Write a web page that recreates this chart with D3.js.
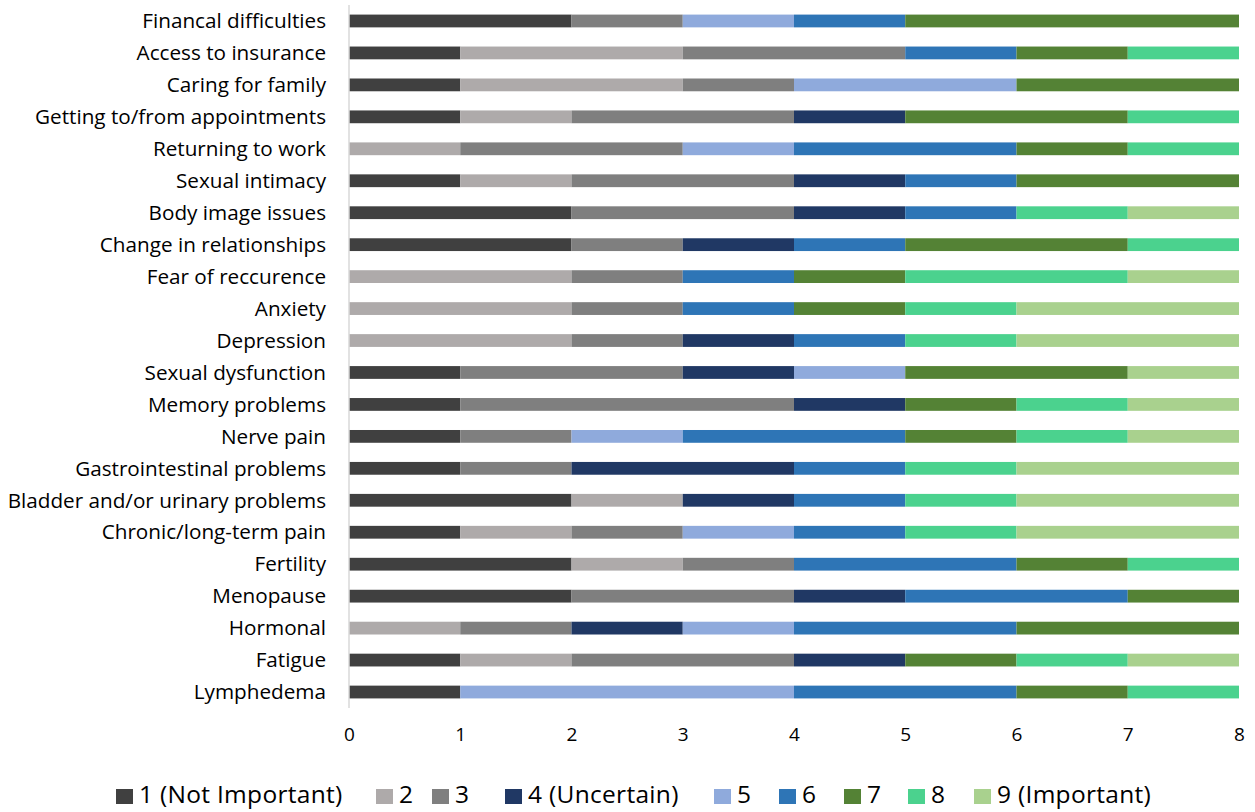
<!DOCTYPE html>
<html>
<head>
<meta charset="utf-8">
<script src="https://cdn.jsdelivr.net/npm/d3@7"></script>
<style>
  html, body { margin: 0; padding: 0; background: #fff; }
  svg text { font-family: "Open Sans", Lato, sans-serif; fill: #000; }
</style>
</head>
<body>
<svg id="chart" width="1255" height="812"></svg>
<script>
// Concerns, top to bottom
const categories = [
  "Financal difficulties", "Access to insurance", "Caring for family",
  "Getting to/from appointments", "Returning to work", "Sexual intimacy",
  "Body image issues", "Change in relationships ", "Fear of reccurence",
  "Anxiety", "Depression", "Sexual dysfunction", "Memory problems",
  "Nerve pain", "Gastrointestinal problems", "Bladder and/or urinary problems",
  "Chronic/long-term pain", "Fertility ", "Menopause", "Hormonal",
  "Fatigue", "Lymphedema"
];

// Rating labels (legend order)
const ratings = ["1 (Not Important)", "2", "3", "4 (Uncertain)", "5", "6", "7", "8", "9 (Important)"];

// Counts per rating, one value per concern (same order as categories)
const r1 = [2,1,1,1,0,1,2,2,0,0,0,1,1,1,1,2,1,2,2,0,1,1];
const r2 = [0,2,2,1,1,1,0,0,2,2,2,0,0,0,0,1,1,1,0,1,1,0];
const r3 = [1,2,1,2,2,2,2,1,1,1,1,2,3,1,1,0,1,1,2,1,2,0];
const r4 = [0,0,0,1,0,1,1,1,0,0,1,1,1,0,2,1,0,0,1,1,1,0];
const r5 = [1,0,2,0,1,0,0,0,0,0,0,1,0,1,0,0,1,0,0,1,0,3];
const r6 = [1,1,0,0,2,1,1,1,1,1,1,0,0,2,1,1,1,2,2,2,0,2];
const r7 = [3,1,2,2,1,2,0,2,1,1,0,2,1,1,0,0,0,1,1,2,1,1];
const r8 = [0,1,0,1,1,0,1,1,2,1,1,0,1,1,1,1,1,1,0,0,1,1];
const r9 = [0,0,0,0,0,0,1,0,1,2,2,1,1,1,2,2,2,0,0,0,1,0];

const xTicks = [0,1,2,3,4,5,6,7,8];
const colors = ["#404040","#aeaaaa","#7f7f7f","#203864","#8faadc","#2e75b6","#548235","#4bd28e","#a9d18e"];

const seriesValues = [r1,r2,r3,r4,r5,r6,r7,r8,r9];
const rows = categories.map((c, i) => {
  const o = { cat: c };
  seriesValues.forEach((s, k) => { o["k" + k] = s[i]; });
  return o;
});
const keys = seriesValues.map((_, k) => "k" + k);

const svg = d3.select("#chart");
const margin = { left: 349, right: 16, top: 5, bottom: 104 };
const W = 1255, H = 812;

const x = d3.scaleLinear().domain([0, 8]).range([margin.left, W - margin.right]);
const y = d3.scaleBand().domain(categories).range([margin.top, H - margin.bottom]).paddingInner(0.6).paddingOuter(0.3);

const stacked = d3.stack().keys(keys)(rows);

svg.append("g").selectAll("g")
  .data(stacked)
  .join("g")
  .attr("fill", (d, i) => colors[i])
  .selectAll("rect")
  .data(d => d)
  .join("rect")
  .attr("x", d => x(d[0]))
  .attr("y", d => y(d.data.cat))
  .attr("width", d => x(d[1]) - x(d[0]))
  .attr("height", y.bandwidth());

// Category axis line
svg.append("line")
  .attr("x1", x(0)).attr("x2", x(0))
  .attr("y1", margin.top).attr("y2", H - margin.bottom)
  .attr("stroke", "#d9d9d9").attr("stroke-width", 1.5);

// Category labels
svg.append("g").selectAll("text")
  .data(categories)
  .join("text")
  .attr("x", margin.left - 23)
  .attr("y", d => y(d) + y.bandwidth() / 2)
  .attr("dy", "0.35em")
  .attr("text-anchor", "end")
  .attr("font-size", 20.7)
  .text(d => d);

// Value axis tick labels
const xAxis = d3.axisBottom(x).tickValues(xTicks).tickSize(0).tickPadding(0).tickFormat(d3.format("d"));
const gx = svg.append("g").attr("transform", `translate(0, ${H - margin.bottom + 19})`).call(xAxis);
gx.select(".domain").remove();
gx.selectAll("text")
  .attr("font-size", 19)
  .attr("dy", "0.71em")
  .style("font-family", "'Open Sans', Lato, sans-serif")
  .attr("fill", "#000");

// Legend
const legend = svg.append("g").attr("transform", "translate(0, 795)");
const legendX = [116, 376, 432, 505, 714, 779, 844, 908, 974];
ratings.forEach((r, i) => {
  const g = legend.append("g").attr("transform", `translate(${legendX[i]}, 0)`);
  g.append("rect").attr("x", 0).attr("y", -6).attr("width", 17).attr("height", 15).attr("fill", colors[i]);
  g.append("text").attr("x", 23).attr("y", 0).attr("dy", "0.32em")
    .attr("font-size", 24.5).attr("letter-spacing", 0.3).text(r);
});
</script>
</body>
</html>
